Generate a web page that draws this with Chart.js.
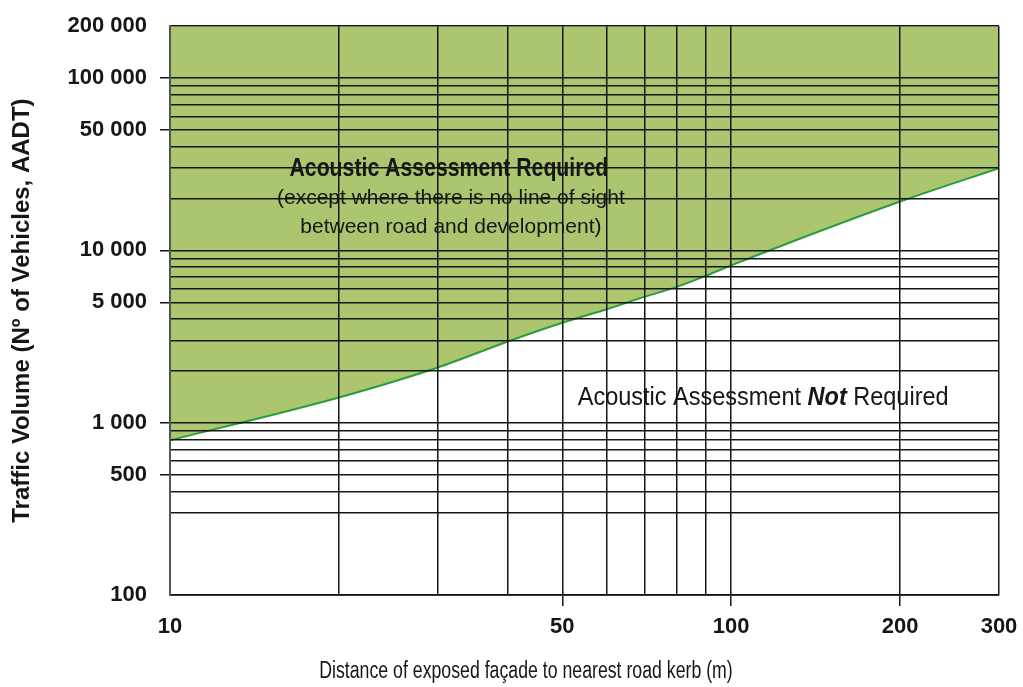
<!DOCTYPE html>
<html>
<head>
<meta charset="utf-8">
<script src="https://cdn.jsdelivr.net/npm/chart.js@4.4.1/dist/chart.umd.min.js"></script>
<style>
  html, body { margin: 0; padding: 0; background: #fff; }
  #wrap { width: 1023px; height: 687px; }
</style>
</head>
<body>
<div id="wrap"><canvas id="chart"></canvas></div>
<script>
// distance from road kerb (m) and the traffic volume above which an assessment is needed
const distances = [10, 20, 30, 40, 50, 60, 70, 80, 90, 100, 200, 300];
const threshold = [790, 1400, 2090, 2960, 3800, 4550, 5370, 6140, 7110, 8180, 19200, 30000];

// grid lines and the ones that get a label
const xGrid = [10, 20, 30, 40, 50, 60, 70, 80, 90, 100, 200, 300];
const xLabelled = [10, 50, 100, 200, 300];
const yGrid = [
  100, 300, 400, 500, 600, 700, 800, 900,
  1000, 2000, 3000, 4000, 5000, 6000, 7000, 8000, 9000,
  10000, 20000, 30000, 40000, 50000, 60000, 70000, 80000, 90000,
  100000, 200000,
];
const yLabelled = [100, 500, 1000, 5000, 10000, 50000, 100000, 200000];

const SANS = '"Liberation Sans", Arial, sans-serif';
const FILL = "#abc66f";
const LINE = "#2a9d3a";
const INK = "#161616";

const spaced = (v) => String(v).replace(/\B(?=(\d{3})+(?!\d))/g, " ");

// no condensed face is installed, so squeeze Liberation Sans sideways.
// parts is a list of [text, font]; the whole run is centred on cx.
function narrowText(ctx, parts, cx, cy, squeeze) {
  let total = 0;
  for (const [t, f] of parts) {
    ctx.font = f;
    total += ctx.measureText(t).width;
  }
  ctx.save();
  ctx.translate(cx, cy);
  ctx.scale(squeeze, 1);
  ctx.textAlign = "left";
  let px = -total / 2;
  for (const [t, f] of parts) {
    ctx.font = f;
    ctx.fillText(t, px, 0);
    px += ctx.measureText(t).width;
  }
  ctx.restore();
}

// text sits above the green fill but under the grid
const notes = {
  id: "notes",
  afterDatasetsDraw(chart) {
    const { ctx } = chart;
    const { x, y } = chart.scales;
    ctx.save();
    ctx.fillStyle = INK;
    ctx.textBaseline = "alphabetic";

    // upper block
    const cx = x.getPixelForValue(31.4);
    const by = y.getPixelForValue(27000);
    narrowText(ctx, [["Acoustic Assessment Required", "bold 25px " + SANS]], cx, by, 0.85);
    ctx.textAlign = "center";
    ctx.font = "21px " + SANS;
    ctx.fillText("(except where there is no line of sight", cx + 2, by + 28);
    ctx.fillText("between road and development)", cx + 2, by + 57);

    // lower block, "Not" in bold italic
    narrowText(
      ctx,
      [
        ["Acoustic Assessment ", "25px " + SANS],
        ["Not", "italic bold 25px " + SANS],
        [" Required", "25px " + SANS],
      ],
      x.getPixelForValue(114),
      y.getPixelForValue(1275),
      0.94,
    );

    // x axis title, set left of centre as in the original
    narrowText(
      ctx,
      [["Distance of exposed façade to nearest road kerb (m)", "23px " + SANS]],
      526,
      678,
      0.77,
    );
    ctx.restore();
  },
};

new Chart(document.getElementById("chart"), {
  type: "line",
  plugins: [notes],
  data: {
    datasets: [
      {
        label: "Threshold",
        data: distances.map((d, i) => ({ x: d, y: threshold[i] })),
        borderColor: LINE,
        borderWidth: 2,
        backgroundColor: FILL,
        fill: "end",
        pointRadius: 0,
        cubicInterpolationMode: "monotone",
      },
    ],
  },
  options: {
    animation: false,
    responsive: true,
    maintainAspectRatio: false,
    layout: {
      padding: { top: 25, right: 24, bottom: 0, left: 0 },
    },
    plugins: {
      legend: { display: false },
      tooltip: { enabled: false },
    },
    scales: {
      x: {
        type: "logarithmic",
        min: 10,
        max: 300,
        afterBuildTicks: (s) => {
          s.ticks = xGrid.map((v) => ({ value: v }));
        },
        afterFit: (s) => {
          // fixed box: let the layout padding decide the right edge
          s.height = 92;
          s.paddingLeft = 0;
          s.paddingRight = 0;
        },
        ticks: {
          autoSkip: false,
          maxRotation: 0,
          padding: 8,
          color: INK,
          font: { family: SANS, size: 22, weight: "bold" },
          callback: (v) => (xLabelled.includes(v) ? String(v) : ""),
        },
        grid: {
          z: 1,
          color: INK,
          lineWidth: 1.5,
          tickLength: 11,
          tickColor: (c) =>
            c.tick && xLabelled.includes(c.tick.value) && c.tick.value !== 10 && c.tick.value !== 300
              ? INK
              : "rgba(0,0,0,0)",
        },
        border: { color: "#555", width: 2, z: 1 },
      },
      y: {
        type: "logarithmic",
        min: 100,
        max: 200000,
        afterBuildTicks: (s) => {
          s.ticks = yGrid.map((v) => ({ value: v }));
        },
        afterFit: (s) => {
          s.width = 170;
        },
        ticks: {
          autoSkip: false,
          padding: 13,
          color: INK,
          font: { family: SANS, size: 22, weight: "bold" },
          callback: (v) => (yLabelled.includes(v) ? spaced(v) : ""),
        },
        grid: {
          z: 1,
          color: INK,
          lineWidth: 1.5,
          tickLength: 10,
          tickColor: (c) =>
            c.tick && yLabelled.includes(c.tick.value) && c.tick.value !== 100 && c.tick.value !== 200000
              ? INK
              : "rgba(0,0,0,0)",
        },
        border: { color: "#555", width: 2, z: 1 },
        title: {
          display: true,
          text: "Traffic Volume (Nº of Vehicles, AADT)",
          color: INK,
          font: { family: SANS, size: 24, weight: "bold" },
          padding: { top: 8, bottom: 0 },
        },
      },
    },
  },
});
</script>
</body>
</html>
